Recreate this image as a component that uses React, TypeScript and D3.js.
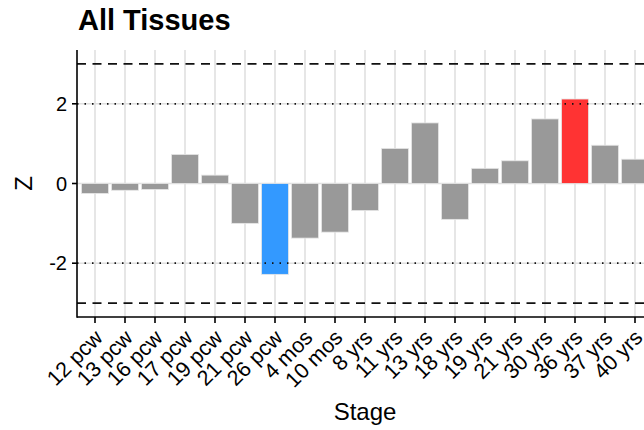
import React from 'react';
import * as d3 from 'd3';

const stages = ['12 pcw', '13 pcw', '16 pcw', '17 pcw', '19 pcw', '21 pcw', '26 pcw', '4 mos', '10 mos', '8 yrs',
  '11 yrs', '13 yrs', '18 yrs', '19 yrs', '21 yrs', '30 yrs', '36 yrs', '37 yrs', '40 yrs'];
const zValues = [-0.25, -0.17, -0.15, 0.73, 0.21, -1.0, -2.28, -1.37, -1.22, -0.68,
  0.88, 1.52, -0.9, 0.38, 0.57, 1.62, 2.12, 0.96, 0.61];
const yTicks = [-2, 0, 2];
const dottedLines = [-2, 2];
const dashedLines = [-3, 3];
const lowStage = '26 pcw';
const highStage = '36 yrs';

const font = '"Liberation Sans", Arial, sans-serif';

export default function App() {
  const width = 644;
  const height = 430;
  const panel = { left: 77, right: 653, top: 50, bottom: 317 };

  const x = d3.scalePoint<string>()
    .domain(stages)
    .range([panel.left, panel.right])
    .padding(0.6);
  const barW = x.step() * 0.9;

  const y = d3.scaleLinear()
    .domain([-3.35, 3.35])
    .range([panel.bottom, panel.top]);

  const fillFor = (s: string) => (s === lowStage ? '#3399ff' : s === highStage ? '#ff3333' : '#999999');

  return (
    <div style={{ position: 'fixed', left: 0, top: 0 }}>
      <svg width={width} height={height} style={{ display: 'block', background: '#fff' }} fontFamily={font}>
        {/* grid */}
        {stages.map(s => (
          <line key={'gx' + s} x1={x(s)} x2={x(s)} y1={panel.top} y2={panel.bottom} stroke="#e0e0e0" strokeWidth={1.6} />
        ))}
        {yTicks.map(t => (
          <line key={'gy' + t} x1={panel.left} x2={panel.right} y1={y(t)} y2={y(t)} stroke="#e0e0e0" strokeWidth={1.6} />
        ))}

        {/* bars */}
        {stages.map((s, i) => {
          const v = zValues[i];
          return (
            <rect
              key={'b' + s}
              x={(x(s) as number) - barW / 2}
              y={y(Math.max(0, v))}
              width={barW}
              height={Math.abs(y(v) - y(0))}
              fill={fillFor(s)}
              stroke="#e6e6e6"
              strokeWidth={0.8}
            />
          );
        })}

        {/* reference lines */}
        {dottedLines.map(v => (
          <line key={'dot' + v} x1={panel.left} x2={panel.right} y1={y(v)} y2={y(v)}
            stroke="#111" strokeWidth={1.8} strokeDasharray="1.5 6" strokeLinecap="butt" />
        ))}
        {dashedLines.map(v => (
          <line key={'dash' + v} x1={panel.left} x2={panel.right} y1={y(v)} y2={y(v)}
            stroke="#111" strokeWidth={1.8} strokeDasharray="9 6.5" />
        ))}

        {/* axes */}
        <line x1={panel.left} x2={panel.left} y1={panel.top} y2={panel.bottom + 0.8} stroke="#000" strokeWidth={1.6} />
        <line x1={panel.left} x2={panel.right} y1={panel.bottom} y2={panel.bottom} stroke="#000" strokeWidth={1.6} />
        {yTicks.map(t => (
          <g key={'yt' + t}>
            <line x1={panel.left - 5} x2={panel.left} y1={y(t)} y2={y(t)} stroke="#000" strokeWidth={1.6} />
            <text x={panel.left - 10} y={y(t)} dy="0.36em" textAnchor="end" fontSize={20} fill="#000">{t}</text>
          </g>
        ))}
        {stages.map(s => (
          <g key={'xt' + s}>
            <line x1={x(s)} x2={x(s)} y1={panel.bottom} y2={panel.bottom + 6} stroke="#000" strokeWidth={1.6} />
            <text
              transform={`translate(${(x(s) as number) - 2},${panel.bottom + 11}) rotate(-45)`}
              textAnchor="end"
              dy="0.72em"
              fontSize={21.5}
              fill="#000"
            >{s}</text>
          </g>
        ))}

        {/* titles */}
        <text x={78} y={30} fontSize={29} fontWeight="bold" fill="#000">All Tissues</text>
        <text x={(panel.left + panel.right) / 2} y={420} textAnchor="middle" fontSize={24} fill="#000">Stage</text>
        <text transform={`translate(32,${y(0)}) rotate(-90)`} textAnchor="middle" fontSize={24} fill="#000">Z</text>
      </svg>
    </div>
  );
}
